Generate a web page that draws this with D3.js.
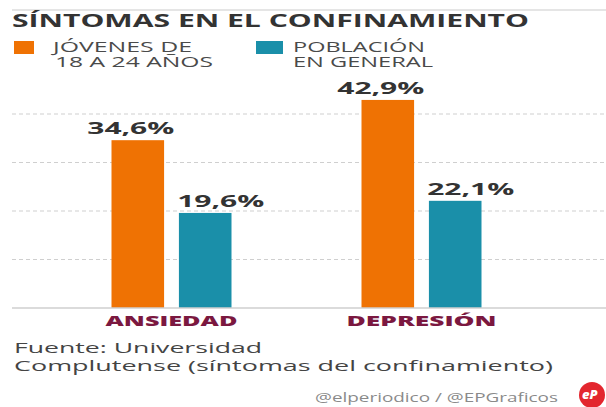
<!DOCTYPE html>
<html><head><meta charset="utf-8">
<script src="https://cdn.jsdelivr.net/npm/d3@7"></script>
<style>html,body{margin:0;padding:0;background:#fff;overflow:hidden}</style>
</head><body>
<svg id="c" width="606" height="407"></svg>
<script>
const categories = ["ANSIEDAD", "DEPRESIÓN"];
const seriesNames = ["JÓVENES DE|18 A 24 AÑOS", "POBLACIÓN|EN GENERAL"];
const youngValues = [34.6, 42.9];
const generalValues = [19.6, 22.1];
const valueLabels = [["34,6%", "42,9%"], ["19,6%", "22,1%"]];
const gridTicks = [10, 20, 30, 40];
const title = "SÍNTOMAS EN EL CONFINAMIENTO";
const sourceLines = ["Fuente: Universidad", "Complutense (síntomas del confinamiento)"];
const credit = "@elperiodico / @EPGraficos";

const colors = ["#ef7203", "#1a8fa9"];
const font = "'Open Sans', 'Noto Sans', sans-serif";
const svg = d3.select("#c");

const y = d3.scaleLinear().domain([0, 10]).range([308, 259.5]);
const x = d3.scalePoint().domain(categories).range([171.5, 421.5]);
const xs = d3.scaleBand().domain([0, 1]).range([-60, 60]).paddingInner(0.22);

// top rule
svg.append("line").attr("x1", 12).attr("x2", 606).attr("y1", 10).attr("y2", 10)
  .attr("stroke", "#dcdcdc").attr("stroke-width", 1.5);

// title
svg.append("text").attr("x", 12).attr("y", 27).text(title)
  .attr("font-family", font).attr("font-weight", 700).attr("font-size", 17)
  .attr("fill", "#333").attr("textLength", 517).attr("lengthAdjust", "spacingAndGlyphs");

// legend
const legX = [14, 256], legTextX = [53, 293];
const legW = [[139, 158], [132, 140]];
seriesNames.forEach((s, i) => {
  svg.append("rect").attr("x", legX[i]).attr("y", 41).attr("width", i ? 27 : 20).attr("height", 13)
    .attr("fill", colors[i]);
  const t = svg.append("text").attr("font-family", font).attr("font-size", 14).attr("fill", "#4a4a4a");
  s.split("|").forEach((line, j) => {
    t.append("tspan").attr("x", legTextX[i] + (i === 0 && j === 1 ? 2 : 0)).attr("y", 52 + j * 15).text(line)
      .attr("textLength", legW[i][j]).attr("lengthAdjust", "spacingAndGlyphs");
  });
});

// gridlines
svg.append("g").selectAll("line").data(gridTicks).join("line")
  .attr("x1", 12).attr("x2", 606).attr("y1", d => y(d)).attr("y2", d => y(d))
  .attr("stroke", "#cfcfcf").attr("stroke-width", 1).attr("stroke-dasharray", "4,3");

// bars
const series = [youngValues, generalValues];
series.forEach((vals, si) => {
  svg.append("g").selectAll("rect").data(vals).join("rect")
    .attr("x", (d, i) => x(categories[i]) + xs(si))
    .attr("width", xs.bandwidth())
    .attr("y", d => y(d)).attr("height", d => y(0) - y(d))
    .attr("fill", colors[si]);
  svg.append("g").selectAll("text").data(vals).join("text")
    .attr("x", (d, i) => x(categories[i]) + xs(si) + xs.bandwidth() / 2 + (si ? 15.5 : -7))
    .attr("y", d => y(d) - 6)
    .attr("text-anchor", "middle")
    .text((d, i) => valueLabels[si][i])
    .attr("font-family", font).attr("font-weight", 700).attr("font-size", 16).attr("fill", "#333")
    .attr("textLength", 87).attr("lengthAdjust", "spacingAndGlyphs");
});

// baseline
svg.append("line").attr("x1", 12).attr("x2", 606).attr("y1", y(0)).attr("y2", y(0))
  .attr("stroke", "#cfcfcf").attr("stroke-width", 1.5);

// category labels
const catW = [132, 150];
svg.append("g").selectAll("text").data(categories).join("text")
  .attr("x", d => x(d)).attr("y", 326).attr("text-anchor", "middle").text(d => d)
  .attr("font-family", font).attr("font-weight", 800).attr("font-size", 14).attr("fill", "#7b1840")
  .attr("textLength", (d, i) => catW[i]).attr("lengthAdjust", "spacingAndGlyphs");

// source
const srcW = [248, 539];
const src = svg.append("text").attr("font-family", font).attr("font-size", 15).attr("fill", "#444");
sourceLines.forEach((l, i) => {
  src.append("tspan").attr("x", 14).attr("y", 353 + i * 18).text(l)
    .attr("textLength", srcW[i]).attr("lengthAdjust", "spacingAndGlyphs");
});

// credit
svg.append("text").attr("x", 315).attr("y", 402).text(credit)
  .attr("font-family", font).attr("font-size", 12).attr("fill", "#8a8a8a")
  .attr("textLength", 243).attr("lengthAdjust", "spacingAndGlyphs");

// logo
svg.append("circle").attr("cx", 592).attr("cy", 395).attr("r", 13).attr("fill", "#e3262e");
svg.append("text").attr("x", 582).attr("y", 399).text("eP")
  .attr("font-family", font).attr("font-weight", 800).attr("font-style", "italic")
  .attr("font-size", 13).attr("fill", "#fff");
</script>
</body></html>
